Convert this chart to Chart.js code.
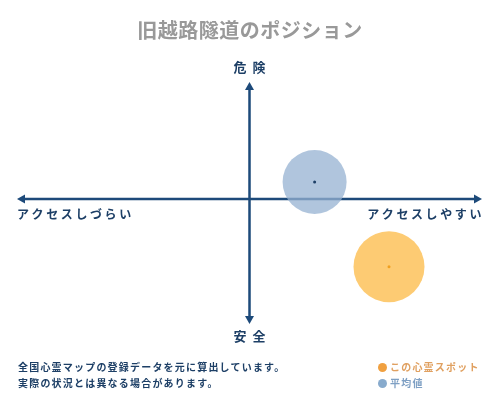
<!DOCTYPE html>
<html>
<head>
<meta charset="utf-8">
<script src="https://cdn.jsdelivr.net/npm/chart.js@4"></script>
<style>
    body { margin: 0; background: #fff; }
    #wrap { position: relative; width: 500px; height: 400px; }
    #foot {
        position: absolute; left: 18px; top: 359px;
        font-family: "Noto Sans CJK JP", sans-serif; font-weight: bold;
        font-size: 10px; line-height: 16px; letter-spacing: 1.2px; color: #1d3f66;
    }
    #legend {
        position: absolute; left: 378px; top: 359px;
        font-family: "Noto Sans CJK JP", sans-serif; font-weight: bold;
        font-size: 10px; line-height: 16px; letter-spacing: 1.2px;
    }
    #legend span.dot {
        display: inline-block; width: 9px; height: 9px; border-radius: 50%;
        margin-right: 3px; vertical-align: -1px;
    }
</style>
</head>
<body>
<div id="wrap">
    <canvas id="posChart" width="500" height="400"></canvas>
    <div id="foot">全国心霊マップの登録データを元に算出しています。<br>実際の状況とは異なる場合があります。</div>
    <div id="legend"></div>
</div>
<script>
const chartTitle = '旧越路隧道のポジション';
const axisLabels = ['危険', '安全', 'アクセスしづらい', 'アクセスしやすい'];
const seriesNames = ['この心霊スポット', '平均値'];
const accessValues = [6.0, 2.8];      // x: access
const dangerValues = [-5.8, 1.45];    // y: danger
const bubbleSizes = [35.5, 32];
const bubbleColors = ['rgba(253, 190, 80, 0.8)', 'rgba(150, 178, 210, 0.75)'];
const dotColors = ['#f0a020', '#1d3f66'];
const legendText = ['#e0a060', '#7fa0c4'];
const legendDots = ['#f0a040', '#88abcd'];
const xRange = [-10, 10];
const yRange = [-10.7, 10];

const axisColor = '#1d4a7a';

document.getElementById('legend').innerHTML = seriesNames.map((n, i) =>
    '<div style="color:' + legendText[i] + '"><span class="dot" style="background:' +
    legendDots[i] + '"></span>' + n + '</div>').join('');

function arrow(ctx, x, y, dx, dy) {
    const len = 8, half = 4.5;
    ctx.beginPath();
    ctx.moveTo(x, y);
    ctx.lineTo(x - dx * len - dy * half, y - dy * len - dx * half);
    ctx.lineTo(x - dx * len + dy * half, y - dy * len + dx * half);
    ctx.closePath();
    ctx.fill();
}

const axesPlugin = {
    id: 'axes',
    beforeDatasetsDraw(chart) {
        const ctx = chart.ctx;
        const a = chart.chartArea;
        const x0 = chart.scales.x.getPixelForValue(0);
        const y0 = chart.scales.y.getPixelForValue(0);
        ctx.save();
        ctx.strokeStyle = axisColor;
        ctx.fillStyle = axisColor;
        ctx.lineWidth = 2.5;
        ctx.beginPath();
        ctx.moveTo(a.left + 4, y0); ctx.lineTo(a.right - 4, y0);
        ctx.moveTo(x0, a.top + 4); ctx.lineTo(x0, a.bottom - 4);
        ctx.stroke();
        arrow(ctx, a.left, y0, -1, 0);
        arrow(ctx, a.right, y0, 1, 0);
        arrow(ctx, x0, a.top, 0, -1);
        arrow(ctx, x0, a.bottom, 0, 1);

        ctx.textBaseline = 'middle';
        ctx.fillStyle = '#999';
        ctx.font = 'bold 20px "Noto Sans CJK JP"';
        ctx.letterSpacing = '0.5px';
        ctx.textAlign = 'center';
        ctx.fillText(chartTitle, 250, 30);

        ctx.fillStyle = '#1d3f66';
        ctx.font = 'bold 13px "Noto Sans CJK JP"';
        ctx.letterSpacing = '6px';
        ctx.fillText(axisLabels[0], x0 + 3, a.top - 15);
        ctx.fillText(axisLabels[1], x0 + 3, a.bottom + 12);
        ctx.font = 'bold 12px "Noto Sans CJK JP"';
        ctx.letterSpacing = '2.6px';
        ctx.textAlign = 'left';
        ctx.fillText(axisLabels[2], a.left, y0 + 16);
        ctx.textAlign = 'right';
        ctx.fillText(axisLabels[3], a.right + 2, y0 + 16);
        ctx.restore();
    }
};

const datasets = [];
seriesNames.forEach((n, i) => {
    datasets.push({
        label: n,
        data: [{ x: accessValues[i], y: dangerValues[i], r: bubbleSizes[i] }],
        backgroundColor: bubbleColors[i],
        borderWidth: 0,
        order: 2 - i
    });
});
seriesNames.forEach((n, i) => {
    datasets.push({
        label: n + ' center',
        data: [{ x: accessValues[i], y: dangerValues[i], r: 1.5 }],
        backgroundColor: dotColors[i],
        borderWidth: 0,
        order: 0
    });
});

new Chart(document.getElementById('posChart'), {
    type: 'bubble',
    data: { datasets: datasets },
    plugins: [axesPlugin],
    options: {
        responsive: false,
        animation: false,
        layout: { autoPadding: false, padding: { left: 17, right: 18, top: 82, bottom: 76 } },
        plugins: { legend: { display: false }, tooltip: { enabled: false } },
        scales: {
            x: { display: false, min: xRange[0], max: xRange[1] },
            y: { display: false, min: yRange[0], max: yRange[1] }
        }
    }
});
</script>
</body>
</html>
